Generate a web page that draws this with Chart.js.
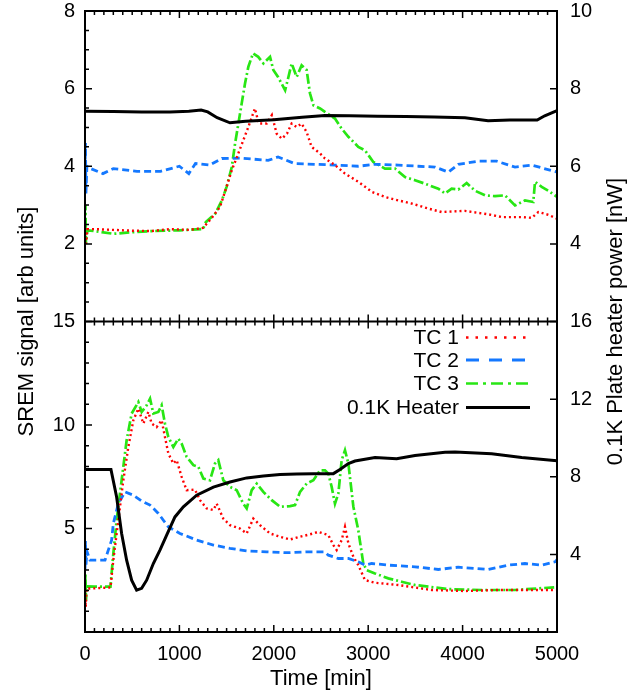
<!DOCTYPE html>
<html><head><meta charset="utf-8">
<script src="https://cdn.jsdelivr.net/npm/chart.js@4.4.1/dist/chart.umd.min.js"></script>
<style>html,body{margin:0;padding:0;background:#fff;}canvas{display:block;}</style>
</head><body>
<canvas id="c" width="643" height="700" style="width:643px;height:700px"></canvas>
<script>
// ---- Data: [time (min), value] ----
const xTicks = [0, 1000, 2000, 3000, 4000, 5000];
const seriesNames = ['TC 1', 'TC 2', 'TC 3', '0.1K Heater'];

// Top panel (left axis 0-8, heater on right axis 2-10)
const topTC1 = [[0,2.4],[10,2.0],[25,2.38],[100,2.38],[300,2.36],[500,2.34],[700,2.33],[900,2.38],[1100,2.36],[1250,2.41],[1350,2.69],[1430,2.95],[1500,3.47],[1555,3.9],[1610,4.24],[1677,4.67],[1730,5.01],[1800,5.49],[1840,5.1],[1925,5.1],[1980,5.32],[2030,4.84],[2085,4.71],[2140,4.84],[2189,5.1],[2242,5.01],[2295,5.1],[2348,4.88],[2400,4.5],[2490,4.33],[2542,4.2],[2648,4.03],[2754,3.81],[2895,3.6],[3040,3.34],[3178,3.21],[3319,3.12],[3460,3.04],[3637,2.91],[3778,2.82],[4025,2.85],[4273,2.76],[4414,2.69],[4626,2.69],[4732,2.67],[4802,2.82],[4908,2.75],[5000,2.65]];
const topTC2 = [[0,3.9],[5,4.6],[10,3.3],[20,4.0],[60,3.94],[190,3.81],[300,3.94],[550,3.87],[800,3.87],[1000,4.0],[1100,3.81],[1170,4.07],[1320,4.03],[1450,4.2],[1660,4.21],[1940,4.15],[2045,4.24],[2220,4.07],[2436,4.05],[2648,4.03],[2895,4.0],[3072,4.05],[3319,4.03],[3531,4.0],[3708,3.98],[3849,3.85],[3955,4.05],[4167,4.13],[4361,4.13],[4555,3.98],[4732,4.03],[5000,3.85]];
const topTC3 = [[0,2.4],[5,3.0],[10,2.0],[25,2.35],[100,2.33],[300,2.26],[500,2.3],[720,2.33],[1000,2.35],[1250,2.38],[1280,2.56],[1380,2.78],[1450,3.12],[1500,3.47],[1555,3.98],[1590,4.59],[1625,5.1],[1660,5.62],[1695,6.13],[1730,6.56],[1780,6.91],[1835,6.82],[1890,6.65],[1960,6.82],[1995,6.48],[2045,6.3],[2120,5.96],[2155,6.3],[2189,6.65],[2242,6.3],[2295,6.6],[2348,6.48],[2383,5.88],[2420,5.57],[2490,5.49],[2542,5.4],[2648,5.23],[2719,4.97],[2790,4.76],[2895,4.5],[2966,4.41],[3054,4.11],[3178,3.94],[3284,3.94],[3390,3.72],[3496,3.64],[3602,3.55],[3743,3.42],[3814,3.3],[3884,3.42],[3955,3.4],[4043,3.57],[4131,3.37],[4237,3.25],[4343,3.23],[4449,3.25],[4555,2.99],[4661,3.12],[4749,3.08],[4767,3.6],[4838,3.47],[4908,3.37],[5000,3.21]];
const topHeater = [[0,7.42],[300,7.41],[600,7.4],[900,7.4],[1100,7.42],[1230,7.45],[1300,7.4],[1400,7.25],[1536,7.12],[1700,7.16],[2000,7.2],[2300,7.26],[2542,7.31],[2800,7.3],[3100,7.29],[3400,7.28],[3700,7.27],[4025,7.25],[4270,7.17],[4500,7.19],[4790,7.19],[4870,7.3],[5000,7.43]];

// Bottom panel (left axis 0-15, heater on right axis 0-16)
const botTC1 = [[0,1.9],[8,1.2],[15,2.1],[100,2.11],[270,2.15],[300,3.47],[353,5.4],[406,7.33],[459,8.94],[512,10.23],[565,10.79],[618,10.07],[671,10.63],[706,10.07],[759,9.9],[812,10.23],[847,9.42],[883,8.62],[936,8.14],[971,8.3],[1024,7.49],[1077,6.85],[1165,6.88],[1218,6.37],[1289,5.97],[1360,5.89],[1395,6.2],[1465,5.48],[1536,5.16],[1642,5.0],[1713,4.76],[1783,5.48],[1854,5.16],[1960,4.76],[2066,4.6],[2172,4.47],[2278,4.6],[2419,4.76],[2470,4.84],[2578,4.68],[2631,4.2],[2666,3.96],[2719,4.44],[2754,5.08],[2790,4.28],[2843,3.63],[2895,3.23],[2966,2.51],[3072,2.38],[3319,2.27],[3672,2.03],[4025,1.98],[4379,2.03],[4732,2.03],[5000,2.03]];
const botTC2 = [[0,3.0],[5,4.4],[10,3.2],[20,3.9],[53,3.47],[212,3.47],[282,4.44],[300,5.24],[353,6.2],[424,6.77],[512,6.61],[600,6.33],[689,6.13],[777,5.73],[830,5.4],[883,5.08],[1006,4.76],[1183,4.44],[1360,4.2],[1536,4.04],[1713,3.92],[1925,3.87],[2136,3.83],[2348,3.87],[2542,3.87],[2578,3.71],[2684,3.55],[2790,3.55],[2895,3.39],[2966,3.23],[3037,3.31],[3213,3.23],[3496,3.15],[3743,3.02],[3955,3.13],[4273,3.02],[4485,3.23],[4661,3.31],[4838,3.23],[4979,3.39],[5000,3.5]];
const botTC3 = [[0,2.2],[5,2.8],[10,1.5],[20,2.2],[100,2.19],[270,2.19],[300,3.79],[335,5.4],[388,7.33],[441,9.26],[494,10.55],[565,11.11],[600,10.63],[653,10.95],[689,11.27],[724,10.55],[777,10.63],[812,10.95],[847,10.07],[883,9.42],[936,8.94],[989,9.34],[1024,9.1],[1077,8.46],[1148,8.06],[1201,7.98],[1254,7.41],[1324,7.33],[1377,8.14],[1412,8.3],[1465,7.33],[1536,7.01],[1607,6.85],[1677,6.2],[1713,5.97],[1766,6.85],[1819,7.17],[1889,6.77],[1978,6.37],[2066,6.05],[2172,6.08],[2225,6.13],[2278,6.77],[2348,7.17],[2419,7.33],[2490,7.81],[2542,7.81],[2578,7.65],[2613,7.01],[2648,6.2],[2684,6.69],[2719,8.3],[2754,8.78],[2790,8.14],[2843,6.05],[2895,4.92],[2948,3.31],[2984,2.99],[3072,2.83],[3213,2.59],[3354,2.43],[3496,2.27],[3849,2.07],[4202,2.03],[4555,2.03],[4979,2.16],[5000,2.2]];
const botHeater = [[0,8.38],[275,8.38],[335,6.96],[388,5.08],[441,3.7],[494,2.67],[547,2.16],[600,2.25],[653,2.67],[724,3.53],[794,4.22],[865,4.99],[953,5.93],[1042,6.45],[1183,7.05],[1360,7.47],[1536,7.73],[1713,7.94],[1889,8.04],[2066,8.11],[2242,8.14],[2419,8.16],[2631,8.16],[2701,8.37],[2790,8.68],[2860,8.81],[3072,8.99],[3301,8.93],[3496,9.1],[3814,9.26],[3920,9.27],[4308,9.19],[4626,8.99],[5000,8.83]];

// ---- Styles ----
const FONT = "'Liberation Sans', Arial, Helvetica, sans-serif";
const RED = 'rgb(255,0,0)', BLUE = 'rgb(20,120,255)', GREEN = 'rgb(40,230,20)', BLACK = '#000';
const styles = [
  {color: RED, dash: [2, 3], legendDash: [2.5, 7], width: 2.4},
  {color: BLUE, dash: [7, 4], legendDash: [13, 10], width: 2.8},
  {color: GREEN, dash: [10, 3, 2, 3], legendDash: [12, 5, 3, 5], width: 2.7},
  {color: BLACK, dash: [], legendDash: [], width: 3}
];
const toXY = arr => arr.map(p => ({x: p[0], y: p[1]}));
function ds(label, arr, st, yAxisID) {
  return {label, data: toXY(arr), borderColor: st.color, borderDash: st.dash, borderWidth: st.width,
    pointRadius: 0, fill: false, tension: 0, yAxisID, xAxisID: 'x', borderCapStyle: 'butt'};
}
const datasets = [
  ds(seriesNames[3], topHeater, styles[3], 'yTR'),
  ds(seriesNames[0], topTC1, styles[0], 'yTL'),
  ds(seriesNames[1], topTC2, styles[1], 'yTL'),
  ds(seriesNames[2], topTC3, styles[2], 'yTL'),
  ds(seriesNames[3], botHeater, styles[3], 'yBR'),
  ds(seriesNames[0], botTC1, styles[0], 'yBL'),
  ds(seriesNames[1], botTC2, styles[1], 'yBL'),
  ds(seriesNames[2], botTC3, styles[2], 'yBL')
];

const tickFont = {family: FONT, size: 20};
function yScale(pos, min, max, step, width, pad, hideVal) {
  return {
    type: 'linear', position: pos, stack: pos, stackWeight: 1, min, max,
    grid: {display: false, drawTicks: false}, border: {display: false},
    ticks: {stepSize: step, autoSkip: false, font: tickFont, color: '#000', padding: pad,
      callback: v => (v === hideVal ? '' : String(v))},
    afterFit: s => { s.width = width; s.paddingTop = 0; s.paddingBottom = 0; }
  };
}

const framePlugin = {
  id: 'frame',
  afterDatasetsDraw(chart) {
    const c = chart.ctx, a = chart.chartArea, sc = chart.scales;
    const mid = sc.yTL.bottom;
    c.save();
    c.strokeStyle = '#000'; c.lineWidth = 2; c.setLineDash([]);
    c.strokeRect(a.left, a.top, a.right - a.left, a.bottom - a.top);
    c.beginPath(); c.moveTo(a.left, mid); c.lineTo(a.right, mid); c.stroke();
    c.lineWidth = 1.5;
    c.beginPath();
    for (let t = 0; t <= 5000; t += 100) {
      const px = sc.x.getPixelForValue(t);
      const L = t % 1000 === 0 ? 7 : 4;
      c.moveTo(px, a.bottom); c.lineTo(px, a.bottom - L);
      c.moveTo(px, a.top); c.lineTo(px, a.top + L);
      c.moveTo(px, mid - L); c.lineTo(px, mid + L);
    }
    for (let v = 0; v <= 8; v += 0.5) {
      const py = sc.yTL.getPixelForValue(v), L = v % 2 === 0 ? 7 : 4;
      c.moveTo(a.left, py); c.lineTo(a.left + L, py);
    }
    for (let v = 0; v <= 15; v += 1) {
      const py = sc.yBL.getPixelForValue(v), L = v % 5 === 0 ? 7 : 4;
      c.moveTo(a.left, py); c.lineTo(a.left + L, py);
    }
    for (let v = 2; v <= 10; v += 2) {
      const py = sc.yTR.getPixelForValue(v);
      c.moveTo(a.right, py); c.lineTo(a.right - 7, py);
    }
    for (let v = 0; v <= 16; v += 4) {
      const py = sc.yBR.getPixelForValue(v);
      c.moveTo(a.right, py); c.lineTo(a.right - 7, py);
    }
    c.stroke();

    // axis titles
    c.fillStyle = '#000';
    c.font = '22px ' + FONT;
    c.textAlign = 'center'; c.textBaseline = 'middle';
    const cy = (a.top + a.bottom) / 2;
    c.save(); c.translate(27, cy); c.rotate(-Math.PI / 2); c.fillText('SREM signal [arb units]', 0, 0); c.restore();
    c.save(); c.translate(616, cy); c.rotate(-Math.PI / 2); c.fillText('0.1K Plate heater power [nW]', 0, 0); c.restore();

    // legend (bottom panel, top right)
    c.font = '21px ' + FONT;
    c.textAlign = 'right';
    const rowY = [16, 38.5, 62, 86];
    [0, 1, 2, 3].forEach((k, i) => {
      const y = mid + rowY[i];
      c.fillStyle = '#000';
      c.fillText(seriesNames[k], a.right - 98, y + 1);
      const st = styles[k];
      c.strokeStyle = st.color; c.lineWidth = st.width; c.setLineDash(st.legendDash);
      c.beginPath(); c.moveTo(a.right - 91, y); c.lineTo(a.right - 27, y); c.stroke();
    });
    c.restore();
  }
};

new Chart(document.getElementById('c'), {
  type: 'line',
  data: {datasets},
  options: {
    responsive: false, animation: false, devicePixelRatio: 1,
    layout: {padding: {top: 11, left: 0, right: 0, bottom: 0}},
    plugins: {legend: {display: false}, tooltip: {enabled: false}},
    scales: {
      x: {
        type: 'linear', position: 'bottom', min: 0, max: 5000,
        grid: {display: false, drawTicks: false}, border: {display: false},
        afterBuildTicks: s => { s.ticks = xTicks.map(v => ({value: v})); },
        ticks: {autoSkip: false, maxRotation: 0, font: tickFont, color: '#000', padding: 10, callback: v => String(v)},
        title: {display: true, text: 'Time [min]', font: {family: FONT, size: 22}, color: '#000', padding: {top: 0, bottom: 8}},
        afterFit: s => { s.height = 68; s.paddingLeft = 0; s.paddingRight = 0; }
      },
      // left stack is laid out in reverse order: define bottom first
      yBL: yScale('left', 0, 15, 5, 85, 10, 0),
      yTL: yScale('left', 0, 8, 2, 85, 10, 0),
      yTR: yScale('right', 2, 10, 2, 86, 13, 2),
      yBR: yScale('right', 0, 16, 4, 86, 13, 0)
    }
  },
  plugins: [framePlugin]
});
</script></body></html>
